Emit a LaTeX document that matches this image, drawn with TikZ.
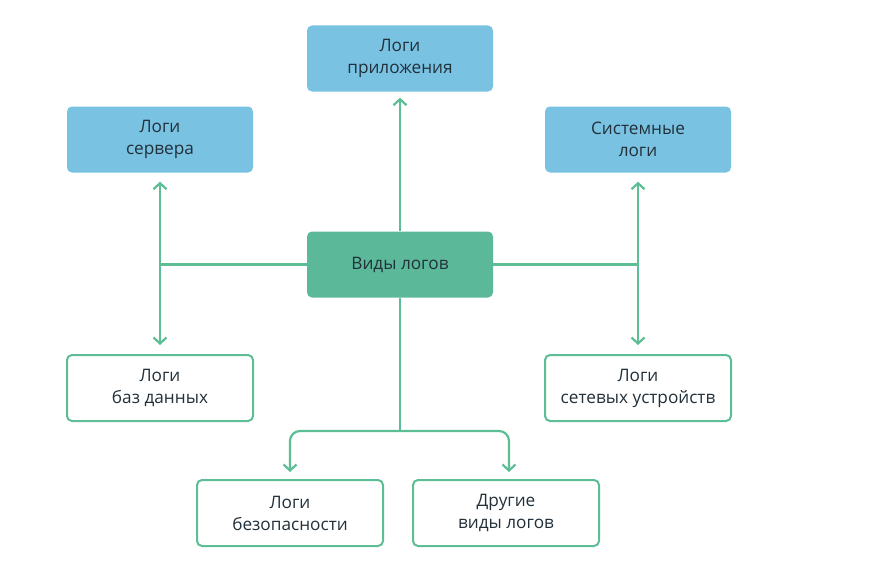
\documentclass[tikz,border=0pt]{standalone}
\usepackage{fontspec}
\setmainfont{Open Sans}
\usetikzlibrary{arrows.meta}
\definecolor{boxblue}{HTML}{79C2E2}
\definecolor{boxgreen}{HTML}{5BB99A}
\definecolor{linegreen}{HTML}{5DBD95}
\definecolor{txt}{HTML}{22303A}
\tikzset{
  x=1pt, y=-1pt,
  base/.style={rounded corners=5pt, minimum width=186pt, minimum height=66pt, align=center, text=txt, font=\fontsize{17.2}{22}\selectfont, inner sep=0pt},
  bluebox/.style={base, fill=boxblue},
  greenbox/.style={base, fill=boxgreen},
  whitebox/.style={base, fill=white, draw=linegreen, line width=2pt},
  conn/.style={draw=linegreen, line width=2.2pt},
  arr/.style={conn, -{Straight Barb[length=6pt, width=13pt, line width=2.2pt]}},
}
\begin{document}
\begin{tikzpicture}
\useasboundingbox[fill=white] (0,0) rectangle (885,586);
\node[bluebox] (app) at (400,58.5) {Логи\\приложения};
\node[bluebox] (srv) at (160,139.5) {Логи\\сервера};
\node[bluebox] (sys) at (638,139.5) {Системные\\логи};
\node[greenbox] (main) at (400,264.5) {Виды логов};
\node[whitebox] (db) at (160,388) {Логи\\баз данных};
\node[whitebox] (net) at (638,388) {Логи\\сетевых устройств};
\node[whitebox] (sec) at (290,513) {Логи\\безопасности};
\node[whitebox] (oth) at (506,513) {Другие\\виды логов};
\coordinate (jl) at (160,264.5);
\coordinate (jr) at (638,264.5);
\coordinate (jb) at (400,431);
\draw[conn] (main.west) -- (jl);
\draw[conn] (main.east) -- (jr);
\draw[arr] (jl) -- ([yshift=-9pt]srv.south);
\draw[arr] (jl) -- ([yshift=9pt]db.north);
\draw[arr] (jr) -- ([yshift=-9pt]sys.south);
\draw[arr] (jr) -- ([yshift=9pt]net.north);
\draw[arr] (main.north) -- ([yshift=-6pt]app.south);
\draw[conn] (main.south) -- (jb);
\draw[arr, rounded corners=10pt] (jb) -| ([yshift=7pt]sec.north);
\draw[arr, rounded corners=10pt] (jb) -| ([xshift=3pt,yshift=7pt]oth.north);
\end{tikzpicture}
\end{document}
